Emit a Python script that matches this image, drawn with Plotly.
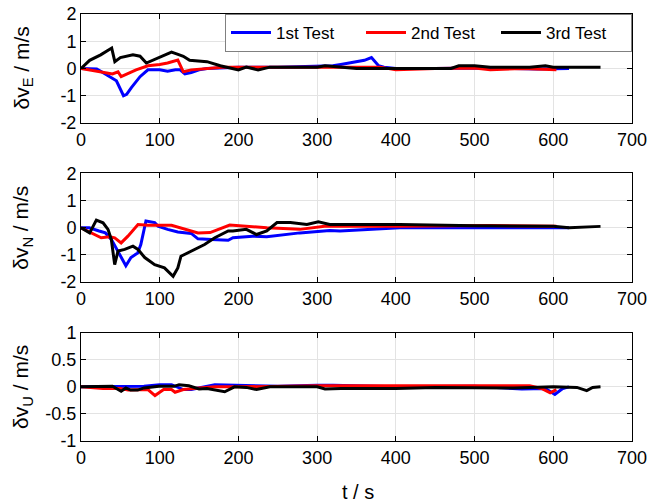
import plotly.graph_objects as go
from plotly.subplots import make_subplots

# ---------------- data ----------------
# Panel 1: delta v_E
t1_E = [0, 10, 20, 25, 37, 45, 54, 58, 64, 70, 75, 85, 100, 110, 120, 126, 132, 140, 150, 160, 200, 250, 300, 320, 330, 340, 350, 360, 369, 378, 385, 400, 450, 500, 550, 580, 620]
v1_E = [0, 0, -0.02, -0.1, -0.3, -0.45, -1.0, -0.95, -0.7, -0.5, -0.3, -0.05, -0.05, -0.1, -0.05, -0.05, -0.2, -0.15, -0.05, 0, 0.05, 0.05, 0.07, 0.1, 0.15, 0.2, 0.25, 0.3, 0.4, 0.1, 0.05, 0, 0, 0.02, 0, -0.02, 0]
t2_E = [0, 10, 25, 40, 47, 51, 70, 85, 100, 110, 123, 130, 140, 160, 180, 200, 250, 300, 380, 400, 450, 500, 520, 560, 604]
v2_E = [0, -0.05, -0.15, -0.2, -0.12, -0.3, -0.05, 0.1, 0.15, 0.2, 0.31, -0.12, -0.05, 0, 0.05, 0.05, 0.05, 0.05, 0.05, -0.05, 0, 0.02, -0.05, 0, -0.05]
t3_E = [0, 11, 25, 39, 43, 50, 66, 75, 83, 95, 105, 115, 125, 130, 138, 160, 177, 195, 200, 210, 225, 240, 300, 310, 350, 470, 480, 500, 520, 570, 590, 600, 650, 660]
v3_E = [0, 0.3, 0.5, 0.75, 0.25, 0.4, 0.5, 0.45, 0.2, 0.35, 0.5, 0.6, 0.5, 0.45, 0.3, 0.25, 0.1, 0.0, -0.05, 0.05, -0.05, 0.05, 0.05, 0.1, 0.0, 0.0, 0.1, 0.1, 0.05, 0.05, 0.1, 0.05, 0.05, 0.05]

# Panel 2: delta v_N
t1_N = [0, 10.5, 23, 31, 38.5, 47, 53, 57, 63.5, 72, 76, 82.5, 93.6, 97.8, 110, 123, 140, 148.6, 165.7, 187, 193, 218, 236, 278, 316, 329, 405, 450, 620]
v1_N = [0, 0, -0.12, -0.19, -0.43, -0.86, -1.17, -1.4, -1.1, -0.93, -0.62, 0.25, 0.19, 0.06, -0.06, -0.16, -0.21, -0.41, -0.43, -0.46, -0.37, -0.31, -0.33, -0.19, -0.1, -0.12, 0, 0, 0]
t2_N = [0, 13, 25.7, 36.4, 42.8, 51, 59.6, 72.4, 85, 115, 131.6, 148.6, 164, 189, 236, 278, 312, 400, 520, 604]
v2_N = [0, -0.19, -0.37, -0.33, -0.37, -0.56, -0.31, 0.12, 0.09, 0.09, -0.06, -0.19, -0.18, 0.1, 0, -0.06, 0.06, 0.05, 0.08, 0.05]
t3_N = [0, 11, 19.5, 28, 34.3, 38.5, 42.8, 47, 55.5, 66, 72.4, 81, 93.6, 106, 117, 123, 127, 140, 157, 170, 187, 193, 210, 223, 236, 249, 266, 287, 301.5, 316, 405, 500, 600, 620, 660]
v3_N = [0, -0.19, 0.28, 0.18, -0.06, -0.43, -1.36, -0.86, -0.8, -0.68, -0.8, -1.1, -1.36, -1.48, -1.79, -1.48, -1.05, -0.86, -0.62, -0.37, -0.12, -0.12, -0.06, -0.25, -0.12, 0.19, 0.19, 0.12, 0.22, 0.12, 0.12, 0.07, 0.05, 0.0, 0.05]

# Panel 3: delta v_U
t1_U = [0, 50, 80, 100, 115, 130, 140, 170, 200, 250, 300, 320, 400, 500, 560, 590, 602, 612, 620]
v1_U = [0, 0, 0.01, 0.04, 0.04, -0.05, -0.05, 0.04, 0.03, 0.01, 0.03, 0.03, 0.0, 0.01, -0.04, -0.03, -0.14, -0.03, 0]
t2_U = [0, 28, 50, 60, 85, 94, 105, 115, 119.5, 130, 150, 170, 200, 300, 400, 500, 570, 585, 596, 604]
v2_U = [0, -0.03, -0.03, -0.06, -0.05, -0.16, -0.05, -0.05, -0.1, -0.05, -0.02, 0, 0, 0.02, 0.02, 0.02, 0.02, -0.03, -0.11, -0.05]
t3_U = [0, 40, 51, 57, 63, 72, 80, 99, 118, 124.6, 137, 150, 160, 182.6, 195, 210, 223, 240, 300, 310, 330, 400, 450, 500, 550, 600, 630, 642.5, 650, 660]
v3_U = [0, 0.01, -0.08, -0.02, -0.06, -0.06, -0.02, 0.01, 0.01, 0.04, 0.02, -0.04, -0.03, -0.09, 0, -0.01, -0.05, 0, 0, -0.04, -0.03, -0.03, -0.01, -0.02, -0.02, 0, -0.01, -0.07, -0.01, 0]

series_names = ["1st Test", "2nd Test", "3rd Test"]
series_colors = ["#0000ff", "#ff0000", "#000000"]

panels = [
    [(t1_E, v1_E), (t2_E, v2_E), (t3_E, v3_E)],
    [(t1_N, v1_N), (t2_N, v2_N), (t3_N, v3_N)],
    [(t1_U, v1_U), (t2_U, v2_U), (t3_U, v3_U)],
]
y_titles = ["δv<sub>E</sub> / m/s", "δv<sub>N</sub> / m/s", "δv<sub>U</sub> / m/s"]
y_ranges = [[-2, 2], [-2, 2], [-1, 1]]
y_ticks = [[-2, -1, 0, 1, 2], [-2, -1, 0, 1, 2], [-1, -0.5, 0, 0.5, 1]]
y_ticktext = [["-2", "-1", "0", "1", "2"], ["-2", "-1", "0", "1", "2"], ["-1", "-0.5", "0", "0.5", "1"]]
x_ticks = [0, 100, 200, 300, 400, 500, 600, 700]

FONT = "Liberation Sans, Arial, sans-serif"

fig = make_subplots(rows=3, cols=1)

for r, panel in enumerate(panels, start=1):
    for i, (tt, vv) in enumerate(panel):
        fig.add_trace(go.Scatter(
            x=tt, y=vv, mode="lines", name=series_names[i],
            line=dict(color=series_colors[i], width=3),
            showlegend=(r == 1),
        ), row=r, col=1)

domains = [[0.7447, 1.0], [0.3724, 0.6265], [0.0, 0.2536]]
for r in range(1, 4):
    fig.update_xaxes(
        range=[0, 700], tickvals=x_ticks, showgrid=True, gridcolor="#e3e3e3", gridwidth=1,
        showline=True, linecolor="black", linewidth=1, mirror="ticks",
        ticks="inside", ticklen=5, tickcolor="black", zeroline=False,
        tickfont=dict(family=FONT, size=18, color="black"), automargin=False,
        row=r, col=1,
    )
    fig.update_yaxes(
        range=y_ranges[r - 1], tickvals=y_ticks[r - 1], ticktext=y_ticktext[r - 1],
        domain=domains[r - 1],
        showgrid=True, gridcolor="#e3e3e3", gridwidth=1,
        showline=True, linecolor="black", linewidth=1, mirror="ticks",
        ticks="inside", ticklen=5, tickcolor="black", zeroline=False,
        tickfont=dict(family=FONT, size=18, color="black"), automargin=False,
        row=r, col=1,
    )
    d = domains[r - 1]
    fig.add_annotation(
        text=y_titles[r - 1], xref="paper", yref="paper",
        x=-0.107, y=(d[0] + d[1]) / 2, textangle=-90, showarrow=False,
        font=dict(family=FONT, size=21, color="black"),
        xanchor="center", yanchor="middle",
    )

fig.add_annotation(
    text="t / s", xref="paper", yref="paper", x=0.503, y=-0.119,
    showarrow=False, font=dict(family=FONT, size=20, color="black"),
    xanchor="center", yanchor="middle",
)

fig.update_layout(
    width=649, height=503,
    margin=dict(l=81, r=17, t=14, b=62, autoexpand=False),
    paper_bgcolor="white", plot_bgcolor="white",
    font=dict(family=FONT, size=18, color="black"),
    legend=dict(
        orientation="h", x=1, y=1, xanchor="right", yanchor="top",
        bgcolor="white", bordercolor="#808080", borderwidth=1,
        font=dict(family=FONT, size=17, color="black"),
        entrywidth=80, tracegroupgap=0, itemwidth=40,
    ),
)

fig.write_html("out.html")
